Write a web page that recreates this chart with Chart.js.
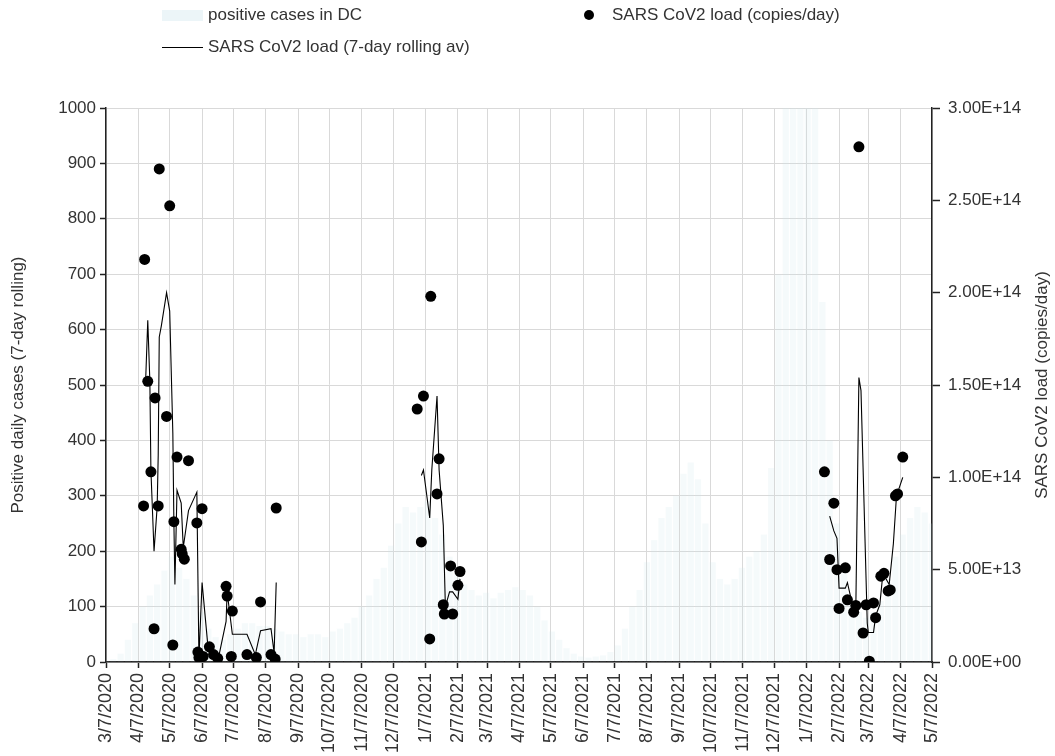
<!DOCTYPE html>
<html>
<head>
<meta charset="utf-8">
<script src="https://cdn.jsdelivr.net/npm/chart.js@4.4.1/dist/chart.umd.min.js"></script>
<style>
  html, body { margin: 0; padding: 0; background: #fff; }
  #wrap { position: relative; width: 1055px; height: 756px; overflow: hidden; }
  #chart { position: absolute; left: 0; top: 0; }
  .lg { position: absolute; font: 17px 'Liberation Sans', Arial, sans-serif; color: #333; line-height: 20px; white-space: nowrap; }
  .patch { position: absolute; left: 162px; top: 10px; width: 41px; height: 11px; background: rgba(200, 225, 235, 0.35); }
  .dot { position: absolute; left: 584px; top: 10px; width: 10px; height: 10px; border-radius: 50%; background: #000; }
  .ln { position: absolute; left: 162px; top: 47px; width: 41px; height: 1px; background: #000; }
</style>
</head>
<body>
<div id="wrap">
  <canvas id="chart" width="1055" height="756"></canvas>
  <div class="patch"></div>
  <div class="lg" style="left:208px;top:5px">positive cases in DC</div>
  <div class="dot"></div>
  <div class="lg" style="left:612px;top:5px">SARS CoV2 load (copies/day)</div>
  <div class="ln"></div>
  <div class="lg" style="left:208px;top:37px">SARS CoV2 load (7-day rolling av)</div>
</div>
<script>
// --- axis labels ---
const monthLabels = ['3/7/2020', '4/7/2020', '5/7/2020', '6/7/2020', '7/7/2020', '8/7/2020',
  '9/7/2020', '10/7/2020', '11/7/2020', '12/7/2020', '1/7/2021', '2/7/2021', '3/7/2021',
  '4/7/2021', '5/7/2021', '6/7/2021', '7/7/2021', '8/7/2021', '9/7/2021', '10/7/2021',
  '11/7/2021', '12/7/2021', '1/7/2022', '2/7/2022', '3/7/2022', '4/7/2022', '5/7/2022']
const leftTicks = [0, 100, 200, 300, 400, 500, 600, 700, 800, 900, 1000]
const leftTickLabels = ['0', '100', '200', '300', '400', '500', '600', '700', '800', '900', '1000']
const rightTicks = [0, 5e13, 1e14, 1.5e14, 2e14, 2.5e14, 3e14]
const rightTickLabels = ['0.00E+00', '5.00E+13', '1.00E+14', '1.50E+14', '2.00E+14', '2.50E+14', '3.00E+14']

// --- positive cases in DC (weekly, start date 3/7/2020, step 7 days) ---
const caseValues = [2, 5, 15, 40, 70, 100, 120, 140, 165, 190, 170, 150, 120, 90, 60, 45, 40, 50,
  60, 70, 70, 65, 65, 60, 55, 50, 50, 45, 50, 50, 45, 55, 60, 70, 80, 100, 120, 150, 170, 210,
  250, 280, 270, 280, 290, 260, 230, 190, 160, 140, 130, 120, 125, 115, 125, 130, 135, 130, 120,
  100, 75, 55, 40, 25, 15, 10, 8, 10, 12, 18, 30, 60, 100, 130, 180, 220, 260, 280, 300, 340,
  360, 330, 250, 180, 150, 140, 150, 170, 190, 200, 230, 350, 700, 1300, 1800, 2000, 1700, 1100,
  650, 400, 250, 160, 110, 90, 80, 90, 110, 150, 190, 230, 260, 280, 270, 250]

// --- SARS CoV2 load, single samples (day = days since 3/7/2020) ---
const loadDays = [36, 37, 40, 43, 46, 47, 50, 51, 58, 61, 64, 65, 68, 72, 73, 75, 79, 87, 88, 89,
  92, 93, 99, 103, 107, 115, 116, 120, 121, 135, 144, 148, 158, 162, 163,
  298, 302, 304, 310, 311, 317, 319, 323, 324, 330, 332, 337, 339,
  688, 693, 697, 700, 702, 708, 710, 716, 718, 721, 725, 728, 731, 735, 737, 742, 745, 749, 751,
  756, 758, 763]
const loadValues = [0.845e14, 2.18e14, 1.52e14, 1.03e14, 0.18e14, 1.43e14, 0.845e14, 2.67e14,
  1.33e14, 2.47e14, 0.092e14, 0.76e14, 1.11e14, 0.61e14, 0.585e14, 0.557e14, 1.09e14, 0.753e14,
  0.054e14, 0.024e14, 0.83e14, 0.03e14, 0.082e14, 0.04e14, 0.02e14, 0.41e14, 0.357e14, 0.03e14,
  0.276e14, 0.04e14, 0.024e14, 0.325e14, 0.04e14, 0.016e14, 0.834e14,
  1.37e14, 0.65e14, 1.44e14, 0.125e14, 1.98e14, 0.91e14, 1.10e14, 0.31e14, 0.26e14, 0.52e14,
  0.26e14, 0.415e14, 0.49e14,
  1.03e14, 0.555e14, 0.86e14, 0.50e14, 0.29e14, 0.51e14, 0.337e14, 0.27e14, 0.306e14, 2.79e14,
  0.157e14, 0.31e14, 0.004e14, 0.32e14, 0.24e14, 0.465e14, 0.48e14, 0.385e14, 0.39e14, 0.90e14,
  0.91e14, 1.11e14]

// --- 7-day rolling average, one list per sampling period ---
const avgDays2020 = [38, 40, 42, 43, 46, 49, 50, 51, 53, 58, 61, 64, 65, 66, 68, 72, 74, 79, 87,
  89, 92, 98, 104, 108, 115, 116, 121, 135, 143, 148, 158, 161, 163]
const avg2020 = [1.53e14, 1.85e14, 1.52e14, 1.04e14, 0.60e14, 0.84e14, 1.12e14, 1.76e14, 1.82e14,
  2.00e14, 1.90e14, 1.24e14, 0.76e14, 0.42e14, 0.93e14, 0.86e14, 0.62e14, 0.82e14, 0.92e14,
  0.02e14, 0.43e14, 0.06e14, 0.02e14, 0.03e14, 0.22e14, 0.38e14, 0.15e14, 0.15e14, 0.04e14,
  0.17e14, 0.18e14, 0.05e14, 0.43e14]
const avgDays2021 = [302, 304, 310, 312, 317, 319, 323, 325, 329, 332, 337, 339]
const avg2021 = [1.01e14, 1.04e14, 0.78e14, 1.04e14, 1.44e14, 1.04e14, 0.74e14, 0.30e14, 0.38e14,
  0.38e14, 0.34e14, 0.45e14]
const avgDays2022 = [693, 697, 700, 702, 708, 710, 714, 718, 721, 723, 729, 730, 735, 737, 741,
  744, 750, 754, 757, 760, 763]
const avg2022 = [0.79e14, 0.71e14, 0.67e14, 0.40e14, 0.40e14, 0.43e14, 0.33e14, 0.27e14, 1.54e14,
  1.47e14, 0.21e14, 0.16e14, 0.16e14, 0.25e14, 0.31e14, 0.48e14, 0.42e14, 0.64e14, 0.90e14,
  0.95e14, 1.00e14]

// day offsets from the first label
function dayOf(label) {
  const [m, d, y] = label.split('/').map(Number)
  return Math.round((Date.UTC(y, m - 1, d) - Date.UTC(2020, 2, 7)) / 86400000)
}
const monthDays = monthLabels.map(dayOf)

const caseData = caseValues.map((v, i) => ({ x: i * 7, y: v }))
const loadData = loadDays.map((d, i) => ({ x: d, y: loadValues[i] }))
const avgData = []
for (const [days, vals] of [[avgDays2020, avg2020], [avgDays2021, avg2021], [avgDays2022, avg2022]]) {
  days.forEach((d, i) => avgData.push({ x: d, y: vals[i] }))
  avgData.push({ x: days[days.length - 1] + 1, y: null })
}

const font = { family: "'Liberation Sans', Arial, sans-serif", size: 17 }
const xFont = { family: "'Liberation Sans', Arial, sans-serif", size: 18 }
const textColor = '#333'
const gridColor = '#d9d9d9'
const axisColor = '#222'

// right-hand title reads bottom-to-top like the left one
const rightTitle = {
  id: 'rightTitle',
  afterDraw(chart) {
    const { ctx, chartArea } = chart
    ctx.save()
    ctx.translate(1042, (chartArea.top + chartArea.bottom) / 2)
    ctx.rotate(-Math.PI / 2)
    ctx.font = `17px ${font.family}`
    ctx.fillStyle = textColor
    ctx.textAlign = 'center'
    ctx.textBaseline = 'middle'
    ctx.fillText('SARS CoV2 load (copies/day)', 0, 0)
    ctx.restore()
  },
}

new Chart(document.getElementById('chart'), {
  type: 'bar',
  data: {
    datasets: [
      {
        type: 'scatter',
        label: 'SARS CoV2 load (copies/day)',
        data: loadData,
        yAxisID: 'y1',
        backgroundColor: '#000',
        borderWidth: 0,
        pointRadius: 5.5,
        order: 1,
      },
      {
        type: 'line',
        label: 'SARS CoV2 load (7-day rolling av)',
        data: avgData,
        yAxisID: 'y1',
        borderColor: '#000',
        borderWidth: 1.1,
        pointRadius: 0,
        tension: 0,
        spanGaps: false,
        order: 2,
      },
      {
        type: 'bar',
        label: 'positive cases in DC',
        data: caseData,
        yAxisID: 'y',
        backgroundColor: 'rgba(200, 225, 235, 0.18)',
        barPercentage: 0.85,
        categoryPercentage: 1,
        order: 3,
      },
    ],
  },
  plugins: [rightTitle],
  options: {
    responsive: false,
    animation: false,
    layout: { padding: { top: 108, left: 0, right: 0, bottom: 0 } },
    plugins: { legend: { display: false }, tooltip: { enabled: false } },
    scales: {
      x: {
        type: 'linear',
        min: 0,
        max: monthDays[monthDays.length - 1],
        offset: false,
        afterBuildTicks: s => { s.ticks = monthDays.map(v => ({ value: v })) },
        afterFit: s => { s.height = 94 },
        ticks: {
          autoSkip: false,
          minRotation: 90,
          maxRotation: 90,
          padding: 5,
          color: textColor,
          font: xFont,
          callback: (v, i) => monthLabels[i],
        },
        grid: { color: gridColor, lineWidth: 1, offset: false, tickLength: 6, tickColor: axisColor, tickWidth: 1.5 },
        border: { color: axisColor, width: 1.5 },
      },
      y: {
        position: 'left',
        min: 0,
        max: 1000,
        afterBuildTicks: s => { s.ticks = leftTicks.map(v => ({ value: v })) },
        afterFit: s => { s.width = 106 },
        ticks: { color: textColor, font, padding: 4, callback: (v, i) => leftTickLabels[i] },
        grid: { color: gridColor, lineWidth: 1, tickLength: 6, tickColor: axisColor, tickWidth: 1.5 },
        border: { color: axisColor, width: 1.5 },
        title: {
          display: true,
          text: 'Positive daily cases (7-day rolling)',
          color: textColor,
          font,
          padding: { top: 8, bottom: 0 },
        },
      },
      y1: {
        position: 'right',
        min: 0,
        max: 3e14,
        afterBuildTicks: s => { s.ticks = rightTicks.map(v => ({ value: v })) },
        afterFit: s => { s.width = 123 },
        ticks: { color: textColor, font, padding: 8, callback: (v, i) => rightTickLabels[i] },
        grid: { drawOnChartArea: false, tickLength: 8, tickColor: axisColor, tickWidth: 1.5 },
        border: { color: axisColor, width: 1.5 },
      },
    },
  },
})
</script>
</body>
</html>
